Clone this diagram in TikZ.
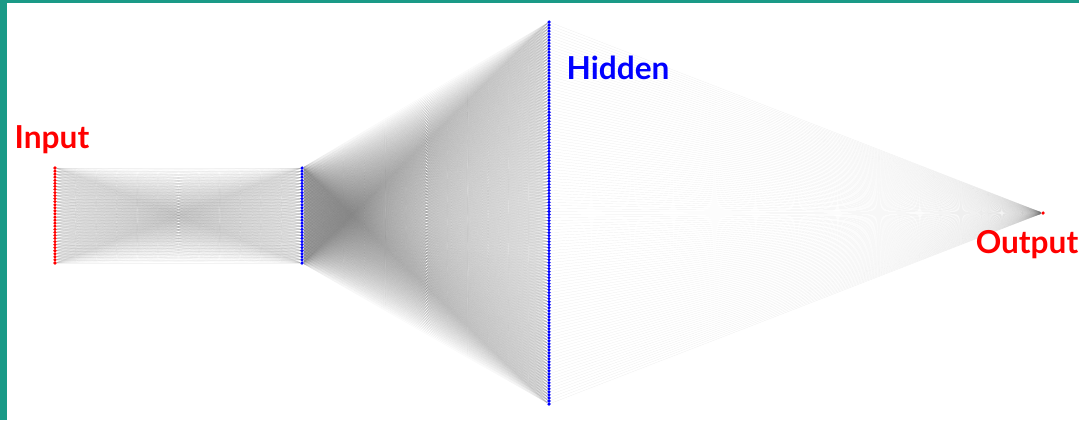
\documentclass[tikz,border=0pt]{standalone}
\usepackage{fontspec}
\setmainfont{Lato}
\usetikzlibrary{backgrounds}
\definecolor{frameteal}{RGB}{26,154,135}
\tikzset{
  neuron/.style={circle,inner sep=0pt,minimum size=2pt,fill=#1},
  synapse/.style={draw=black!60,line width=0.1pt,opacity=0.08},
  outsynapse/.style={synapse,opacity=0.16},
  layerlabel/.style={font=\bfseries\fontsize{18}{20}\selectfont,text=#1}
}
\begin{document}
\begin{tikzpicture}[x=0.02cm,y=-0.02cm]
  \useasboundingbox (0,0) rectangle (1079,420);
  \fill[frameteal] (0,0) rectangle (1079,3);
  \fill[frameteal] (0,0) rectangle (7,420);

  % neurons
  \foreach \i in {1,...,32} {
    \node[neuron=red] (in\i) at (55,{168+(\i-1)*(95/31)}) {};
    \node[neuron=blue] (ha\i) at (302,{168+(\i-1)*(95/31)}) {};
  }
  \foreach \i in {1,...,128}
    \node[neuron=blue] (hb\i) at (549,{22+(\i-1)*(382/127)}) {};
  \node[neuron=red] (out) at (1043,213) {};

  % connections
  \begin{scope}[on background layer]
    \foreach \i in {1,...,32}
      \foreach \j in {1,...,32}
        \draw[synapse] (in\i) -- (ha\j);
    \foreach \i in {1,...,32}
      \foreach \j in {1,...,128}
        \draw[synapse] (ha\i) -- (hb\j);
    \foreach \j in {1,...,128}
      \draw[outsynapse] (hb\j) -- (out);
  \end{scope}

  % labels
  \node[layerlabel=red] (lblin) at (52,140) {Input};
  \node[layerlabel=blue] (lblhid) at (618,68) {Hidden};
  \node[layerlabel=red] (lblout) at (1027,245) {Output};
\end{tikzpicture}
\end{document}
